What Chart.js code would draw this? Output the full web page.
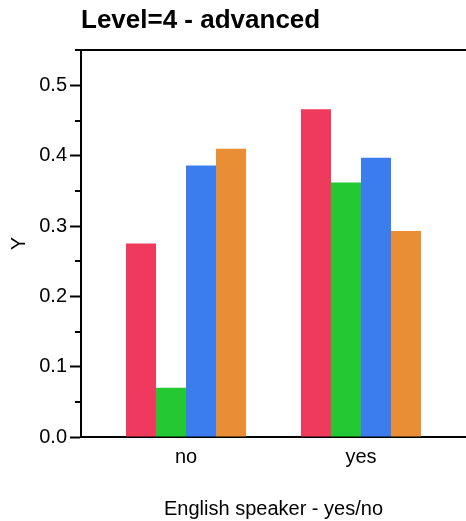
<!DOCTYPE html>
<html>
<head>
<meta charset="utf-8">
<script src="https://cdn.jsdelivr.net/npm/chart.js@4"></script>
<style>
  body { margin: 0; background: #fff; }
  #wrap { width: 466px; height: 521px; }
</style>
</head>
<body>
<div id="wrap"><canvas id="levelChart" width="466" height="521"></canvas></div>
<script>
// categories along the x axis (English speaker - yes/no)
const categories = ['no', 'yes'];

// one series per colour
const seriesRed = [0.275, 0.466];
const seriesGreen = [0.070, 0.362];
const seriesBlue = [0.386, 0.397];
const seriesOrange = [0.410, 0.293];

// y tick labels (major steps), minor ticks sit halfway between
const yTickLabels = ['0.0', '0.1', '0.2', '0.3', '0.4', '0.5'];

const FONT = 'Liberation Sans, Arial, sans-serif';

function toPoints(values) {
    return values.map((v, i) => ({ x: i, y: v }));
}

// short minor ticks on the y axis, drawn from the y scale itself
const minorTicks = {
    id: 'minorTicks',
    afterDraw(chart) {
        const y = chart.scales.y;
        const ctx = chart.ctx;
        ctx.save();
        ctx.strokeStyle = '#000';
        ctx.lineWidth = 2;
        y.ticks.forEach(t => {
            if (Math.round(t.value * 100) % 10 === 0) return;
            const py = Math.round(y.getPixelForValue(t.value));
            ctx.beginPath();
            ctx.moveTo(y.right - 6, py);
            ctx.lineTo(y.right, py);
            ctx.stroke();
        });
        ctx.restore();
    }
};

function initChart() {
    const ctx = document.getElementById('levelChart').getContext('2d');

    new Chart(ctx, {
        type: 'bar',
        data: {
            datasets: [
                { label: 'a', data: toPoints(seriesRed), backgroundColor: '#ef3a5d' },
                { label: 'b', data: toPoints(seriesGreen), backgroundColor: '#23c832' },
                { label: 'c', data: toPoints(seriesBlue), backgroundColor: '#3b7dee' },
                { label: 'd', data: toPoints(seriesOrange), backgroundColor: '#e98e35' }
            ]
        },
        options: {
            responsive: false,
            animation: false,
            layout: { padding: 0 },
            categoryPercentage: 0.686,
            barPercentage: 1.0,
            scales: {
                x: {
                    type: 'linear',
                    min: -0.6,
                    max: 1.6,
                    offset: false,
                    afterBuildTicks: (scale) => {
                        scale.ticks = categories.map((c, i) => ({ value: i }));
                    },
                    afterFit: (scale) => { scale.height = 84; },
                    grid: { display: false, drawTicks: false },
                    border: { display: true, color: '#000', width: 2 },
                    ticks: {
                        padding: 8,
                        color: '#000',
                        font: { family: FONT, size: 20 },
                        callback: (v) => categories[v] ?? ''
                    },
                    title: {
                        display: true,
                        text: 'English speaker - yes/no',
                        color: '#000',
                        font: { family: FONT, size: 20 },
                        padding: { top: 4, bottom: 0 }
                    }
                },
                x2: {
                    type: 'linear',
                    position: 'top',
                    min: -0.6,
                    max: 1.6,
                    afterFit: (scale) => { scale.height = 0; },
                    grid: { display: false, drawTicks: false },
                    border: { display: true, color: '#000', width: 2 },
                    ticks: { display: false }
                },
                y: {
                    min: 0,
                    max: 0.55,
                    afterFit: (scale) => { scale.width = 81; },
                    grid: {
                        display: true,
                        drawOnChartArea: false,
                        tickLength: 11,
                        tickWidth: 2,
                        tickColor: (c) => (c.tick && Math.round(c.tick.value * 100) % 10 === 0) ? '#000' : 'rgba(0,0,0,0)'
                    },
                    border: { display: true, color: '#000', width: 2 },
                    ticks: {
                        stepSize: 0.05,
                        padding: 3,
                        color: '#000',
                        font: { family: FONT, size: 20 },
                        callback: (v) => {
                            const k = Math.round(v * 100);
                            return k % 10 === 0 ? yTickLabels[k / 10] : '';
                        }
                    },
                    title: {
                        display: true,
                        text: 'Y',
                        color: '#000',
                        font: { family: FONT, size: 20 },
                        padding: { top: 7, bottom: 0 }
                    }
                }
            },
            plugins: {
                legend: { display: false },
                tooltip: { enabled: false },
                title: {
                    display: true,
                    text: 'Level=4 - advanced',
                    align: 'start',
                    fullSize: false,
                    color: '#000',
                    font: { family: FONT, size: 26, weight: 'bold' },
                    padding: { top: 5, bottom: 14 }
                }
            }
        },
        plugins: [minorTicks]
    });
}

window.addEventListener('DOMContentLoaded', initChart);
</script>
</body>
</html>
